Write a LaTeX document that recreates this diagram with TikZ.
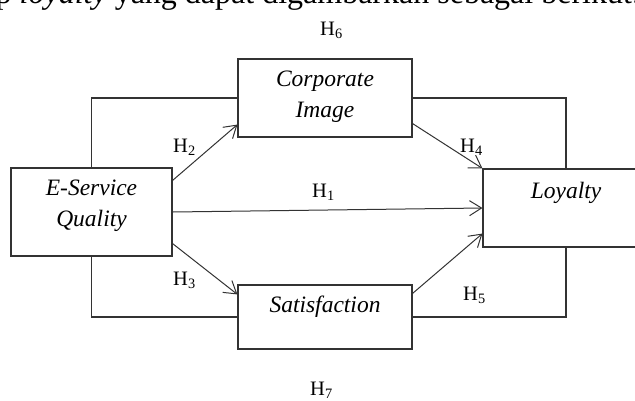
\documentclass[tikz,border=0pt]{standalone}
\usepackage{fontspec}
\setmainfont{Liberation Serif}
\usetikzlibrary{arrows.meta}

\begin{document}
\begin{tikzpicture}[x=1pt,y=-1pt,
        box/.style={draw=black!80,line width=1.1pt,inner sep=0pt,align=center,
            font=\itshape\fontsize{23.5}{31.5}\selectfont},
        hyp/.style={anchor=base west,inner sep=0pt,font=\fontsize{20.5}{24}\selectfont},
        link/.style={draw=black!80,line width=1.1pt},
        arr/.style={link,line width=1pt,-{Straight Barb[length=12pt,width=15pt]}}]
            \useasboundingbox (0,0) rectangle (635,400);
            \node[anchor=base east,inner sep=0pt,font=\fontsize{32}{37}\selectfont] (intro) at (641,3)
                {terhadap \textit{loyalty} yang dapat digambarkan sebagai berikut:};
            \node[box,minimum width=161pt,minimum height=88pt,text depth=18pt] (esq) at (91.5,212) {E-Service\\Quality};
            \node[box,minimum width=174pt,minimum height=78pt,text depth=8pt] (ci) at (325,98) {Corporate\\Image};
            \node[box,minimum width=174pt,minimum height=64pt,text height=15pt,text depth=25pt] (sat) at (325,317) {Satisfaction};
            \node[box,minimum width=166pt,minimum height=78pt,text height=15pt,text depth=35pt] (loy) at (566,208) {Loyalty};
            % outer paths
            \draw[link] (esq.north) |- (ci.west);
            \draw[link] (ci.east) -| (loy.north);
            \draw[link] (esq.south) |- (sat.west);
            \draw[link] (sat.east) -| (loy.south);
            % arrows
            \draw[arr] (esq.east) -- (loy.west);
            \draw[arr] ([yshift=-13pt]esq.north east) -- ([yshift=13pt]ci.south west);
            \draw[arr] ([yshift=13pt]esq.south east) -- ([yshift=-10pt]sat.north west);
            \draw[arr] ([yshift=14pt]ci.south east) -- (loy.north west);
            \draw[arr] ([yshift=-9pt]sat.north east) -- ([yshift=14pt]loy.south west);
            \node[hyp] (h1) at (312,197) {H\textsubscript{1}};
            \node[hyp] (h2) at (173,152) {H\textsubscript{2}};
            \node[hyp] (h3) at (173,285) {H\textsubscript{3}};
            \node[hyp] (h4) at (460,152) {H\textsubscript{4}};
            \node[hyp] (h5) at (463,300) {H\textsubscript{5}};
            \node[hyp] (h6) at (320,35) {H\textsubscript{6}};
            \node[hyp] (h7) at (310,395) {H\textsubscript{7}};
\end{tikzpicture}
\end{document}
